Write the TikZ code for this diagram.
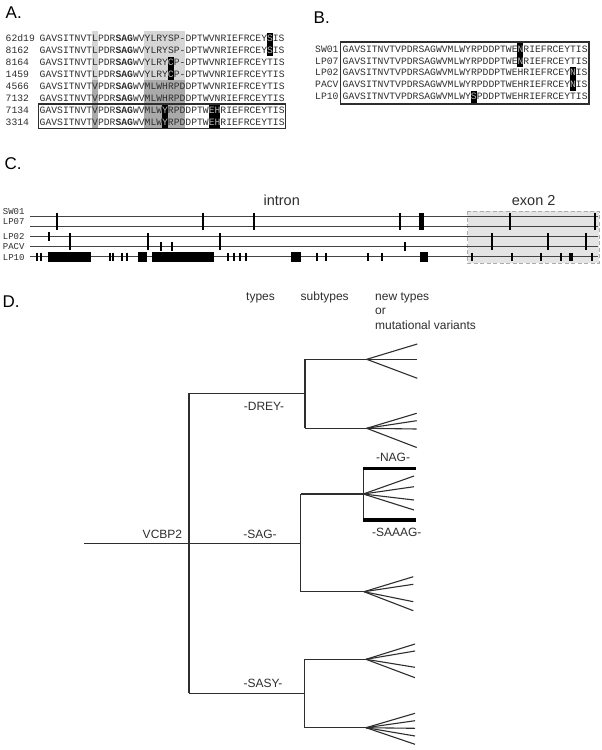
\documentclass[tikz,border=0pt]{standalone}
\usepackage{fontspec}
\setmainfont{Liberation Sans}
\newfontfamily\seqfont{Liberation Mono}
\definecolor{txt}{HTML}{2E2E2E}
\definecolor{lightsh}{HTML}{D6D6D6}
\definecolor{darksh}{HTML}{AAAAAA}
\definecolor{exonfill}{HTML}{E4E4E4}
\newcommand\cw{5.83}
\newcommand\blk[4]{\fill[black] ({#1+#2*\cw},#3) rectangle ({#1+(#2+1)*\cw},#4);}
\newcommand\hlet[5]{\node[seq,text=gray!55,anchor=base west] (#5) at ({#1+#2*\cw},#3) {#4};}
\newcommand\sq[5]{\node[seq,anchor=base west] (#5) at ({#1+#2*\cw},#3) {#4};}
\begin{document}
\begin{tikzpicture}[x=1pt,y=-1pt,
  seq/.style={font=\seqfont\fontsize{9.72}{11}\selectfont,inner sep=0,text=txt},
  cname/.style={font=\seqfont\fontsize{9}{10}\selectfont,inner sep=0,text=txt,anchor=base west},
  panel/.style={font=\fontsize{17}{19}\selectfont,inner sep=0,anchor=base west},
  lab/.style={font=\fontsize{12}{14}\selectfont,inner sep=0,text=txt},
  big/.style={font=\fontsize{14.5}{16}\selectfont,inner sep=0,text=txt},
  tree/.style={line width=1.1pt,draw=txt},
  trk/.style={line width=1pt,draw=txt!90},
  tk/.style={line width=1.8pt,draw=black}]
\useasboundingbox[fill=white] (0,0) rectangle (602,750);

% ---------------- Panel A ----------------
\node[panel] (labA) at (5.5,18.3) {A.};
% shading
\fill[lightsh] ({39.5+9*\cw},31) rectangle ({39.5+10*\cw},80);
\fill[lightsh] ({39.5+18*\cw},31) rectangle ({39.5+25*\cw},80);
\fill[darksh] ({39.5+9*\cw},80) rectangle ({39.5+10*\cw},128);
\fill[darksh] ({39.5+18*\cw},80) rectangle ({39.5+25*\cw},128);
% black cells
\blk{39.5}{39}{32.5}{55.5}
\blk{39.5}{22}{56.5}{80}
\blk{39.5}{21}{104.5}{128}
\blk{39.5}{29}{104.5}{128}
\blk{39.5}{30}{104.5}{128}
% names
\foreach \n [count=\k from 0] in {62d19,8162,8164,1459,4566,7132,7134,3314}{
  \node[seq,anchor=base west] (an\k) at (5.5,{41.7+12*\k}) {\n};
}
% rows 62d19, 8162
\foreach \b/\i in {41.7/1,53.7/2}{
  \sq{39.5}{0}{\b}{GAVSITNVTLPDR\textbf{SAG}WVYLRYSP-DPTWVNRIEFRCEY}{aa\i}
  \hlet{39.5}{39}{\b}{S}{ha\i}
  \sq{39.5}{40}{\b}{IS}{ab\i}
}
% rows 8164, 1459
\foreach \b/\i in {65.7/3,77.7/4}{
  \sq{39.5}{0}{\b}{GAVSITNVTLPDR\textbf{SAG}WVYLRY}{aa\i}
  \hlet{39.5}{22}{\b}{C}{ha\i}
  \sq{39.5}{23}{\b}{P-DPTWVNRIEFRCEYTIS}{ab\i}
}
% rows 4566, 7132
\foreach \b/\i in {89.7/5,101.7/6}{
  \sq{39.5}{0}{\b}{GAVSITNVTVPDR\textbf{SAG}WVMLWHRPDDPTWVNRIEFRCEYTIS}{aa\i}
}
% rows 7134, 3314
\foreach \b/\i in {113.7/7,125.7/8}{
  \sq{39.5}{0}{\b}{GAVSITNVTVPDR\textbf{SAG}WVMLW}{aa\i}
  \hlet{39.5}{21}{\b}{Y}{ha\i}
  \sq{39.5}{22}{\b}{RPDDPTW}{ab\i}
  \hlet{39.5}{29}{\b}{EH}{hc\i}
  \sq{39.5}{31}{\b}{RIEFRCEYTIS}{ac\i}
}
\draw[line width=1.3pt,draw=txt] (38.3,104) rectangle (285.7,128.3);

% ---------------- Panel B ----------------
\node[panel] (labB) at (313.5,23) {B.};
\blk{342.5}{30}{42.5}{66.5}
\blk{342.5}{39}{67}{90.5}
\blk{342.5}{22}{90.5}{103.5}
\foreach \n [count=\k from 0] in {SW01,LP07,LP02,PACV,LP10}{
  \node[seq,anchor=base west] (bn\k) at (315,{52.5+11.7*\k}) {\n};
}
\foreach \b/\i in {52.5/1,64.2/2}{
  \sq{342.5}{0}{\b}{GAVSITNVTVPDRSAGWVMLWYRPDDPTWE}{ba\i}
  \hlet{342.5}{30}{\b}{N}{hb\i}
  \sq{342.5}{31}{\b}{RIEFRCEYTIS}{bb\i}
}
\foreach \b/\i in {75.9/3,87.6/4}{
  \sq{342.5}{0}{\b}{GAVSITNVTVPDRSAGWVMLWYRPDDPTWEHRIEFRCEY}{ba\i}
  \hlet{342.5}{39}{\b}{N}{hb\i}
  \sq{342.5}{40}{\b}{IS}{bb\i}
}
\sq{342.5}{0}{99.3}{GAVSITNVTVPDRSAGWVMLWY}{ba5}
\hlet{342.5}{22}{99.3}{S}{hb5}
\sq{342.5}{23}{99.3}{PDDPTWEHRIEFRCEYTIS}{bb5}
\draw[line width=1.3pt,draw=txt] (340.7,42) rectangle (589,104);

% ---------------- Panel C ----------------
\node[panel] (labC) at (4.5,169) {C.};
\node[big,anchor=base] (intron) at (281.7,205.5) {intron};
\node[big,anchor=base] (exon) at (533.7,205) {exon 2};
\draw[gray!65,fill=exonfill,line width=1pt,dash pattern=on 4pt off 2.5pt] (467.7,211) rectangle (599,263.3);
\foreach \n/\y/\t [count=\k] in {SW01/216.5/214.2,LP07/226.5/224.7,LP02/236.5/239,PACV/246.5/249.7,LP10/256.5/260.2}{
  \coordinate (ls\k) at (30,\y);
  \coordinate (le\k) at (598,\y);
  \draw[trk] (ls\k) -- (le\k);
  \node[cname] (cn\k) at (2.7,\t) {\n};
}
% SW01/LP07 ticks
\foreach \x in {56.7,203.3,254,400,510,594.7}{\draw[tk] (\x,212.5) -- (\x,230);}
\fill (418.8,212.5) rectangle (424.3,230);
% LP02/PACV ticks
\foreach \x in {70,148.3,220,492,548,586}{\draw[tk] (\x,233) -- (\x,249.5);}
\draw[tk] (48.7,232) -- (48.7,241);
\foreach \x in {161,172,405.3}{\draw[tk] (\x,241.7) -- (\x,250.5);}
% LP10
\foreach \x in {37.3,41,110,113.3,122.3,126.7,228.3,234.3,240,245.7,316.7,326,368.3,382.3,472.3,512.3,541,561,592.3}{\draw[tk] (\x,252.5) -- (\x,261);}
\fill (569.3,252.5) rectangle (572.7,261);
\foreach \a/\b in {48.3/90.7,138.3/147.3,152.3/214,291/300.5,420/428.3}{\fill (\a,252) rectangle (\b,261.5);}

% ---------------- Panel D ----------------
\node[panel] (labD) at (2.5,307.7) {D.};
\node[lab,anchor=base west] (types) at (246,300) {types};
\node[lab,anchor=base west] (subtypes) at (300.5,300) {subtypes};
\node[lab,anchor=base west] (newtypes) at (375,300) {new types};
\node[lab,anchor=base west] (or) at (375,314.5) {or};
\node[lab,anchor=base west] (mut) at (375,329) {mutational variants};

\coordinate (root) at (84,543.7);
\coordinate (r) at (189,543.7);
\coordinate (rt) at (189,393.3);
\coordinate (rb) at (189,693.3);
\coordinate (a) at (305,393.3);
\coordinate (at) at (305,359.3);
\coordinate (ab) at (305,428.3);
\coordinate (b) at (300.7,543.7);
\coordinate (bt) at (300.7,494);
\coordinate (bb) at (300.7,591.7);
\coordinate (c) at (304.3,693.3);
\coordinate (ct) at (304.3,659.3);
\coordinate (cb) at (304.3,727.7);
\coordinate (f1) at (366.7,359.3);
\coordinate (f2) at (366.7,428.3);
\coordinate (f3) at (363.3,494);
\coordinate (f4) at (364,591.7);
\coordinate (f5) at (366,659.3);
\coordinate (f6) at (366,727.7);

\draw[tree] (root) -- (r);
\draw[tree] (rt) -- (rb);
\draw[tree] (rt) -- (a);
\draw[tree] (r) -- (b);
\draw[tree] (rb) -- (c);
\draw[tree] (at) -- (ab);
\draw[tree] (bt) -- (bb);
\draw[tree] (ct) -- (cb);
\draw[tree] (at) -- (f1);
\draw[tree] (ab) -- (f2);
\draw[tree] (bt) -- (f3);
\draw[tree] (bb) -- (f4);
\draw[tree] (ct) -- (f5);
\draw[tree] (cb) -- (f6);
\foreach \y in {344,359.3,378.3}{\coordinate (e) at (417.3,\y); \draw[tree] (f1) -- (e);}
\foreach \y in {413.3,420.7,429,447.5}{\coordinate (e) at (416.7,\y); \draw[tree] (f2) -- (e);}
\foreach \y in {476,486.7,500,510}{\coordinate (e) at (414,\y); \draw[tree] (f3) -- (e);}
\foreach \y in {576.7,584.3,601.7,610.7}{\coordinate (e) at (413.3,\y); \draw[tree] (f4) -- (e);}
\foreach \y in {644,651,667.3,677.7}{\coordinate (e) at (415,\y); \draw[tree] (f5) -- (e);}
\foreach \y in {713.3,720.7,728.3,736,744.3}{\coordinate (e) at (415,\y); \draw[tree] (f6) -- (e);}
% bracket
\coordinate (k1) at (363.3,468.3);
\coordinate (k2) at (363.3,520);
\coordinate (k3) at (416,468.3);
\coordinate (k4) at (416,520);
\draw[line width=1.3pt,draw=txt] (k1) -- (k2);
\draw[line width=3.5pt,draw=black] (k1) -- (k3);
\draw[line width=3.5pt,draw=black] (k2) -- (k4);

\node[lab,anchor=base east] (vcbp) at (182.3,538.3) {VCBP2};
\node[lab,anchor=base] (drey) at (264,410) {-DREY-};
\node[lab,anchor=base] (sag) at (260,538.3) {-SAG-};
\node[lab,anchor=base] (sasy) at (263,687.7) {-SASY-};
\node[lab,anchor=base] (nag) at (393,461.7) {-NAG-};
\node[lab,anchor=base] (saaag) at (396.7,536.7) {-SAAAG-};
\end{tikzpicture}
\end{document}
